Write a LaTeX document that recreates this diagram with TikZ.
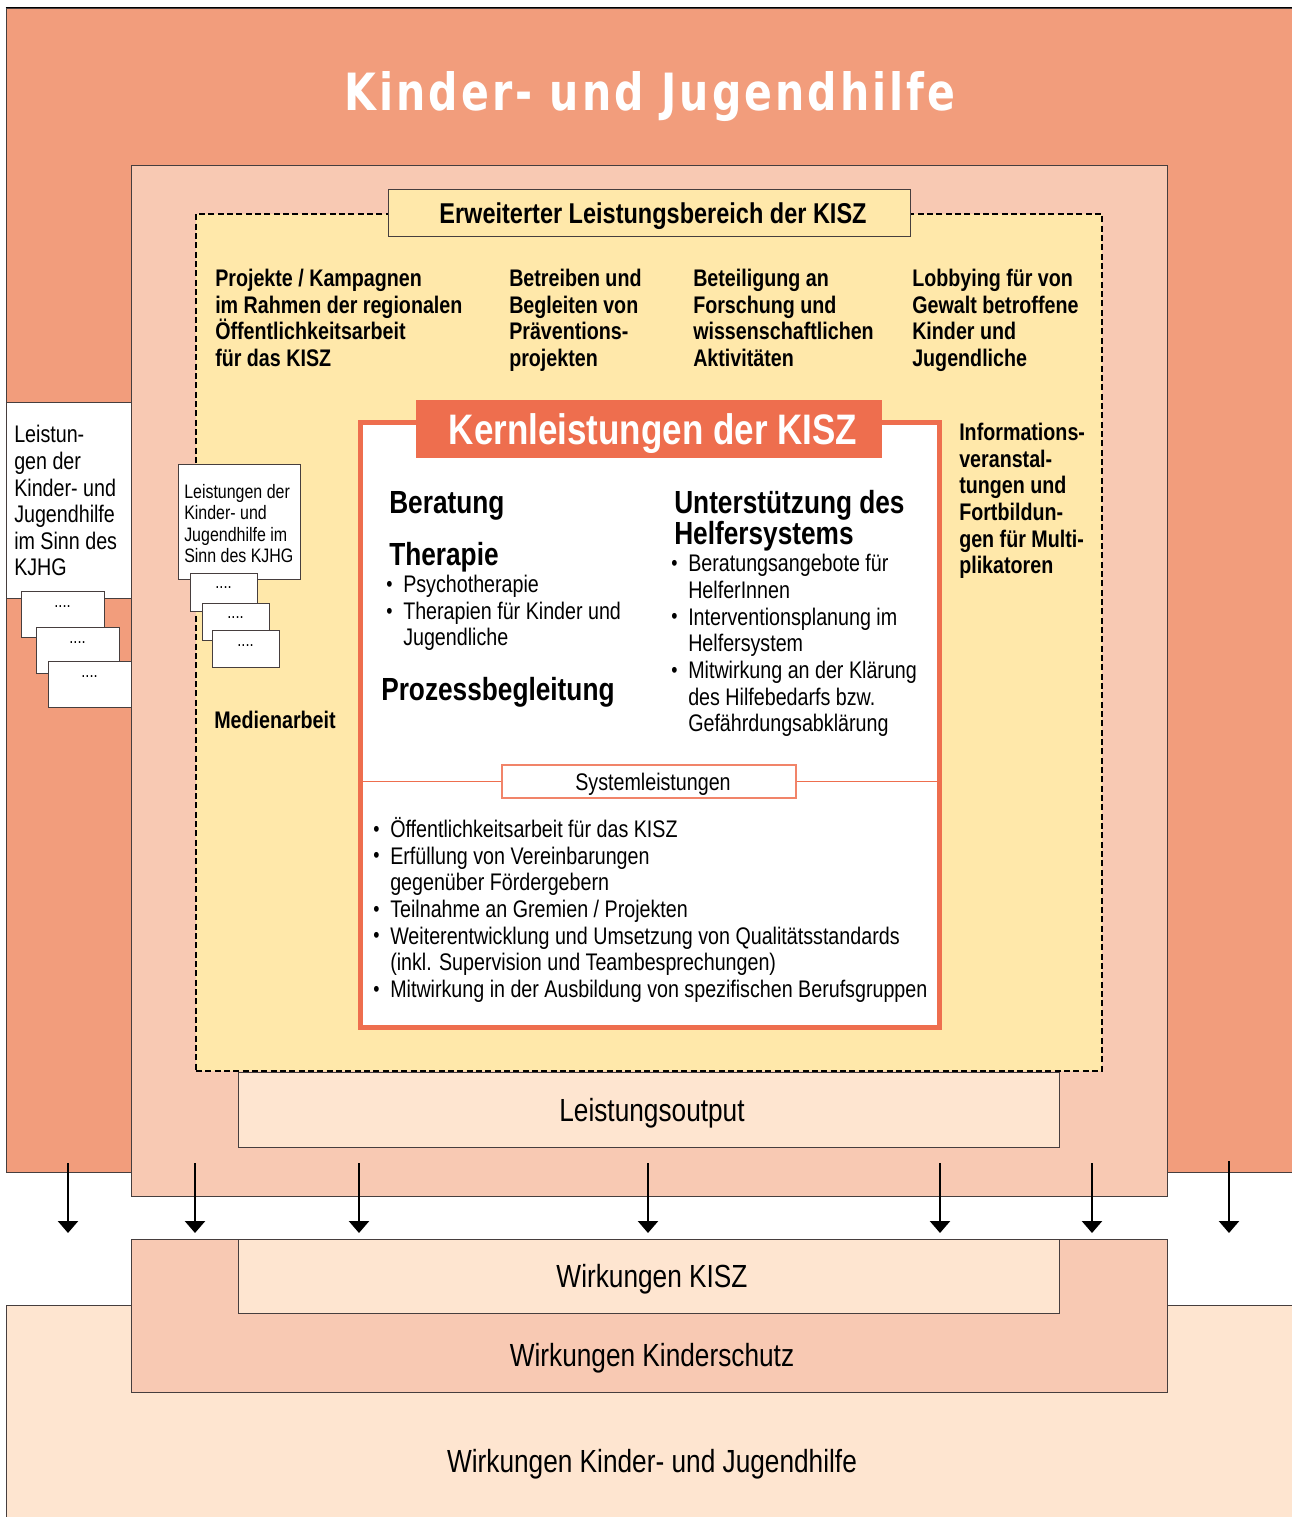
\documentclass[tikz,border=0pt]{standalone}
\usepackage{fontspec}
\setmainfont{Liberation Sans}[FakeStretch=0.82]
\newfontfamily\kjtitlefont{DejaVu Sans}[FakeStretch=0.8, LetterSpace=6]
\usetikzlibrary{arrows.meta,fit}
\definecolor{kjorange}{RGB}{242,157,124}
\definecolor{kjsalmon}{RGB}{248,201,179}
\definecolor{kjyellow}{RGB}{255,232,170}
\definecolor{kjpeach}{RGB}{254,229,208}
\definecolor{kjred}{RGB}{238,110,78}
\definecolor{kjframe}{RGB}{70,62,62}
\newcommand{\kjfs}[2]{\fontsize{#1pt}{#2pt}\selectfont}
\newcommand{\kjb}{\llap{\raisebox{0.05em}{\scalebox{0.9}{\textbullet}}\hspace{0.45em}}}
\tikzset{
  fitbox/.style={inner sep=0pt, draw=kjframe, line width=0.7pt},
  lbl/.style={inner sep=0pt, anchor=north west, align=left, execute at begin node={\rule{0pt}{1em}}},
  body/.style={lbl, font=\kjfs{18}{20}},
  bbody/.style={lbl, font=\kjfs{18}{20}\bfseries},
  head/.style={lbl, font=\kjfs{24}{23.25}\bfseries},
  dotsbox/.style={fitbox, fill=white},
  dotstxt/.style={inner sep=0pt, anchor=base, font=\kjfs{13.5}{14}},
  centertxt/.style={inner sep=0pt, font=\kjfs{24}{26}},
  arr/.style={line width=1.9pt, -{Triangle[width=15pt,length=9pt]}}
}
\begin{document}
\begin{tikzpicture}[x=0.75pt,y=-0.75pt]
\useasboundingbox (0,0) rectangle (1292,1517);
\fill[white] (0,0) rectangle (1292,1517);

% outer area: Kinder- und Jugendhilfe
\node[fitbox, fill=kjorange, fit={(6,8) (1292,1172)}] (kjh) {};
\draw[black, line width=1.2pt] (kjh.north west) -- (kjh.north east);
\node[inner sep=0pt, text=white, font=\kjtitlefont\bfseries\fontsize{38.5pt}{40pt}\selectfont] (title) at (650,97) {Kinder- und Jugendhilfe};

% left white box with stacked boxes
\node[fitbox, fill=white, fit={(6,402) (131,598)}] (leftbox) {};
\node[body] (lefttxt) at (14,425) {Leistun-\\gen der\\Kinder- und\\Jugendhilfe\\im Sinn des\\KJHG};
\node[dotsbox, fit={(21,591) (104,637)}] (l1) {};
\node[dotstxt] (l1t) at (62.5,607) {....};
\node[dotsbox, fit={(36,627) (119,673)}] (l2) {};
\node[dotstxt] (l2t) at (77.5,643) {....};
\node[dotsbox, fit={(48,661) (131,707)}] (l3) {};
\node[dotstxt] (l3t) at (89.5,677) {....};

% KISZ area
\node[fitbox, fill=kjsalmon, fit={(131,165) (1167,1196)}] (kisz) {};
\node[fitbox, fill=kjpeach, fit={(238,1072) (1059,1147)}] (output) {};
\node[centertxt] (outputtxt) at (652,1113) {Leistungsoutput};

% extended area (dashed)
\node[inner sep=0pt, fill=kjyellow, draw=black, line width=1.5pt, dash pattern=on 4.5pt off 2.5pt, fit={(196,214) (1102,1071)}] (erw) {};
\node[fitbox, fill=kjyellow, fit={(388,189) (910,236)}] (erwhead) {};
\node[inner sep=0pt, font=\kjfs{21.5}{24}\bfseries] (erwheadtxt) at (653,216) {Erweiterter Leistungsbereich der KISZ};

\node[bbody] (col1) at (215,269) {Projekte / Kampagnen\\im Rahmen der regionalen\\Öffentlichkeitsarbeit\\für das KISZ};
\node[bbody] (col2) at (509,269) {Betreiben und\\Begleiten von\\Präventions-\\projekten};
\node[bbody] (col3) at (693,269) {Beteiligung an\\Forschung und\\wissenschaftlichen\\Aktivitäten};
\node[bbody] (col4) at (912,269) {Lobbying für von\\Gewalt betroffene\\Kinder und\\Jugendliche};
\node[bbody] (info) at (959,423) {Informations-\\veranstal-\\tungen und\\Fortbildun-\\gen für Multi-\\plikatoren};
\node[bbody] (medien) at (214,704) {Medienarbeit};

% inner small box with stacked boxes
\node[fitbox, fill=white, fit={(178,464) (300,579)}] (innerbox) {};
\node[lbl, font=\kjfs{14.6}{16}] (innertxt) at (184,484) {Leistungen der\\Kinder- und\\Jugendhilfe im\\Sinn des KJHG};
\node[dotsbox, fit={(190,573) (257,611)}] (i1) {};
\node[dotstxt] (i1t) at (223.5,588) {....};
\node[dotsbox, fit={(202,603) (269,640)}] (i2) {};
\node[dotstxt] (i2t) at (235.5,618) {....};
\node[dotsbox, fit={(212,630) (279,667)}] (i3) {};
\node[dotstxt] (i3t) at (245.5,646) {....};

% core services
\node[inner sep=0pt, fill=white, draw=kjred, line width=3.75pt, fit={(360.5,422.5) (939.5,1027.5)}] (kern) {};
\node[inner sep=0pt, fill=kjred, fit={(416,400) (882,458)}] (kernhead) {};
\node[inner sep=0pt, text=white, font=\kjfs{32}{34}\bfseries] (kernheadtxt) at (653,434) {Kernleistungen der KISZ};

\node[head] (beratung) at (389,481) {Beratung};
\node[head] (therapie) at (389,533) {Therapie};
\node[body] (therapiel) at (403,575) {\kjb Psychotherapie\\\kjb Therapien für Kinder und\\Jugendliche};
\node[head] (prozess) at (381,668) {Prozessbegleitung};
\node[head] (unterst) at (674,490) {Unterstützung des\\Helfersystems};
\node[body] (unterstl) at (688,554) {\kjb Beratungsangebote für\\HelferInnen\\\kjb Interventionsplanung im\\Helfersystem\\\kjb Mitwirkung an der Klärung\\des Hilfebedarfs bzw.\\Gefährdungsabklärung};

\node[inner sep=0pt, fill=white, draw=kjred!85, line width=1.1pt, fit={(502,765) (796,798)}] (sys) {};
\draw[kjred, line width=1.3pt] (kern.west |- sys.west) -- (sys.west);
\draw[kjred, line width=1.3pt] (sys.east) -- (kern.east |- sys.east);
\node[inner sep=0pt, font=\kjfs{18}{20}] (systxt) at (653,784) {Systemleistungen};
\node[body] (sysl) at (390,817) {\kjb Öffentlichkeitsarbeit für das KISZ\\\kjb Erfüllung von Vereinbarungen\\gegenüber Fördergebern\\\kjb Teilnahme an Gremien / Projekten\\\kjb Weiterentwicklung und Umsetzung von Qualitätsstandards\\(inkl. Supervision und Teambesprechungen)\\\kjb Mitwirkung in der Ausbildung von spezifischen Berufsgruppen};

% effects
\node[fitbox, fill=kjpeach, fit={(6,1305) (1292,1522)}] (wkjh) {};
\node[centertxt] (wkjhtxt) at (652,1464) {Wirkungen Kinder- und Jugendhilfe};
\node[fitbox, fill=kjsalmon, fit={(131,1239) (1167,1392)}] (wks) {};
\node[centertxt] (wkstxt) at (652,1358) {Wirkungen Kinderschutz};
\node[fitbox, fill=kjpeach, fit={(238,1239) (1059,1313)}] (wkisz) {};
\node[centertxt] (wkisztxt) at (652,1279) {Wirkungen KISZ};

% arrows
\foreach \i/\x/\ys in {1/68/1163, 2/195/1163, 3/359/1163, 4/648/1163, 5/940/1163, 6/1092/1163, 7/1229/1161} {
  \coordinate (as\i) at (\x,\ys);
  \coordinate (ae\i) at (\x,1233);
  \draw[arr] (as\i) -- (ae\i);
}
\end{tikzpicture}
\end{document}
